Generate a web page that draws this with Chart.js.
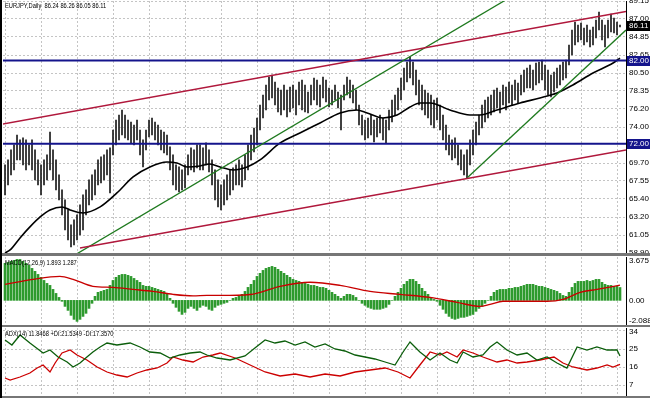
<!DOCTYPE html>
<html>
<head>
<meta charset="utf-8">
<script src="https://cdn.jsdelivr.net/npm/chart.js@4.4.1/dist/chart.umd.min.js"></script>
<style>
  html, body { margin: 0; padding: 0; background: #fff; }
  #wrap { position: relative; width: 650px; height: 398px; overflow: hidden; background: #fff; }
  #wrap canvas { position: absolute; left: 0; }
  .sep { position: absolute; left: 0; width: 650px; background: #767676; z-index: 2; }
  .edge { position: absolute; left: 0; top: 0; width: 2px; height: 398px; background: #000; z-index: 2; }
  .lbl { position: absolute; left: 5px; font: 7px "Liberation Sans", Arial, sans-serif; color: #000;
         white-space: nowrap; transform: scaleX(0.82); transform-origin: 0 0; z-index: 3; line-height: 8px; }
</style>
</head>
<body>
<div id="wrap">
  <canvas id="chart-price" style="top:0" width="650" height="255"></canvas>
  <canvas id="chart-macd" style="top:256px" width="650" height="70"></canvas>
  <canvas id="chart-adx" style="top:327px" width="650" height="71"></canvas>
  <div class="sep" style="top:253px;height:3px"></div>
  <div class="sep" style="top:325px;height:2px"></div>
  <div class="sep" style="top:396px;height:2px"></div>
  <div class="edge"></div>
  <div class="lbl" style="top:2px">EURJPY,Daily&nbsp; 86.24 86.26 86.05 86.11</div>
  <div class="lbl" style="top:259px">MACD(12,26,9) 1.893 1.287</div>
  <div class="lbl" style="top:330px">ADX(14) 11.8468 +DI:21.5349 -DI:17.3570</div>
</div>
<script>
// daily bars, oldest first (one entry per bar)
const highs = [
  69.47, 70.07, 71.27, 71.87, 73.07, 72.47, 72.71, 72.47, 71.87, 72.47,
  71.27, 70.07, 69.47, 70.07, 70.67, 73.43, 71.27, 70.07, 68.27, 66.47,
  65.27, 64.07, 62.27, 62.87, 63.47, 64.67, 65.87, 66.47, 67.67, 68.27,
  68.87, 70.07, 70.43, 70.67, 71.27, 71.51, 73.67, 74.87, 75.47, 76.07,
  75.47, 74.87, 74.63, 74.27, 74.87, 73.67, 72.47, 73.67, 74.87, 75.11,
  74.63, 74.27, 73.67, 73.43, 73.07, 71.63, 70.67, 69.47, 69.23, 68.87,
  69.47, 70.67, 71.51, 71.27, 71.87, 71.87, 71.51, 72.11, 71.27, 70.07,
  68.87, 67.67, 67.07, 67.67, 68.27, 68.87, 69.11, 69.47, 70.07, 69.47,
  70.67, 71.87, 73.07, 73.91, 75.11, 76.67, 77.87, 79.07, 80.03, 80.27,
  79.43, 78.71, 78.47, 79.07, 78.47, 78.83, 79.07, 78.47, 79.43, 79.67,
  79.07, 78.23, 79.07, 79.91, 79.67, 79.07, 80.03, 79.67, 78.71, 78.47,
  79.07, 78.23, 77.87, 79.07, 80.03, 79.67, 79.07, 78.47, 76.67, 75.47,
  74.87, 75.11, 75.47, 74.87, 75.11, 75.47, 75.11, 74.87, 76.07, 77.27,
  77.87, 78.71, 79.91, 81.11, 81.83, 82.43, 81.83, 80.87, 79.67, 79.07,
  78.47, 78.11, 77.87, 77.27, 77.51, 76.67, 75.47, 74.27, 73.07, 72.47,
  72.71, 71.87, 71.27, 70.67, 71.27, 72.47, 73.67, 74.63, 75.47, 76.67,
  77.27, 77.63, 77.87, 78.47, 78.71, 78.23, 79.07, 78.83, 79.43, 79.07,
  79.67, 79.31, 80.27, 80.87, 81.11, 81.47, 80.87, 81.71, 81.83, 82.07,
  81.47, 80.87, 80.27, 80.63, 81.11, 81.47, 81.83, 82.07, 83.87, 85.67,
  86.63, 86.27, 86.51, 85.91, 86.27, 85.67, 86.03, 86.87, 87.83, 86.87,
  86.27, 86.87, 87.59, 87.11, 86.63, 86.26
];
const lows = [
  65.87, 67.07, 68.27, 68.87, 70.07, 70.07, 69.47, 68.87, 69.47, 68.87,
  67.67, 67.07, 65.87, 67.07, 67.67, 68.87, 67.67, 66.47, 65.27, 63.47,
  61.67, 60.47, 59.63, 59.87, 60.47, 61.07, 61.67, 63.47, 64.67, 65.27,
  65.87, 67.07, 67.31, 67.67, 68.27, 66.11, 70.67, 71.87, 72.47, 73.07,
  72.71, 72.47, 72.11, 71.87, 72.47, 70.67, 69.23, 71.27, 72.83, 73.07,
  72.47, 71.87, 71.27, 70.91, 70.67, 68.87, 67.07, 66.47, 66.23, 66.47,
  66.71, 68.27, 68.87, 68.63, 69.11, 68.87, 68.87, 69.47, 68.63, 67.07,
  65.27, 64.43, 64.07, 64.67, 65.27, 65.87, 66.47, 67.07, 67.07, 66.83,
  67.67, 68.87, 70.07, 71.03, 71.87, 73.67, 75.11, 76.07, 77.27, 77.51,
  76.67, 75.83, 75.47, 76.07, 75.23, 75.83, 76.31, 75.47, 76.67, 76.07,
  75.83, 75.71, 76.67, 77.27, 76.67, 76.43, 77.51, 77.03, 76.43, 76.67,
  77.27, 76.31, 73.67, 77.27, 77.87, 77.51, 76.91, 76.07, 74.27, 73.07,
  72.47, 72.71, 73.07, 72.23, 72.83, 73.31, 72.47, 72.11, 73.67, 74.63,
  75.47, 76.07, 77.27, 78.47, 79.43, 79.91, 79.07, 77.87, 76.67, 76.07,
  75.47, 75.11, 74.27, 73.91, 74.87, 73.67, 72.47, 71.27, 70.67, 70.07,
  70.31, 69.47, 68.87, 68.27, 67.91, 69.47, 70.67, 71.87, 73.07, 73.91,
  74.63, 75.11, 75.47, 75.83, 76.31, 75.71, 76.67, 76.07, 76.91, 76.67,
  77.27, 76.91, 77.87, 78.23, 78.71, 78.71, 78.47, 79.07, 79.31, 79.67,
  78.47, 77.87, 77.63, 78.23, 78.71, 79.07, 79.67, 79.91, 81.47, 82.67,
  83.87, 84.23, 84.47, 83.87, 84.23, 83.63, 83.87, 84.71, 85.67, 84.47,
  83.63, 84.71, 85.43, 85.31, 85.07, 86.05
];
const lastClose = 86.11;

// moving average, [bar, price]
const maLine = [
  [0, 58.91], [1.7, 59.27], [5, 60.71], [8.3, 62.03], [11.7, 63.23], [15, 64.07], [19, 64.43],
  [21.7, 64.07], [26, 63.71], [31.7, 64.43], [37.3, 66.11], [42.7, 68.03], [48.3, 69.23],
  [54, 69.83], [57.3, 69.71], [60.7, 69.23], [65, 69.35], [68.3, 69.59], [71.7, 69.23],
  [76, 68.87], [80.7, 69.23], [85, 70.07], [91.7, 72.11], [98.3, 73.31], [105, 74.51],
  [111.7, 75.71], [117.3, 76.07], [120.7, 75.71], [126, 75.11], [130.7, 75.47], [135, 76.43],
  [138.3, 76.91], [141.7, 76.91], [148.3, 76.07], [155, 75.47], [158.3, 75.47], [164, 76.07],
  [171.7, 76.91], [178.3, 77.51], [184, 78.11], [189.3, 79.07], [196, 80.51], [202.7, 81.71],
  [205, 82.3]
];

// drawn objects, [bar, price]
const upperChannel = [[-1, 74.37], [207, 87.89]];
const lowerChannel = [[25, 59.51], [207, 71.27]];
const steepTrend = [[23, 58.6], [167, 89.3]];
const supportTrend = [[154, 67.9], [207, 85.67]];
const levels = [82.00, 72.00];

const priceTicks = [89.15, 87.00, 84.85, 82.65, 80.50, 78.35, 76.20, 74.00, 69.70, 67.55, 65.40, 63.20, 61.05, 58.90];
const gridBars = [0, 12, 24, 36, 48, 60, 72, 84, 96, 108, 120, 132, 144, 156, 168, 180, 192, 204];

// MACD histogram, one per bar
const macdHist = [
  3.14, 3.22, 3.31, 3.39, 3.47, 3.47, 3.31, 3.14, 2.97, 2.71,
  2.46, 2.20, 1.95, 1.69, 1.44, 1.27, 0.93, 0.59, 0.25, -0.08,
  -0.51, -0.85, -1.27, -1.61, -1.78, -1.61, -1.36, -1.10, -0.68, -0.25,
  0.34, 0.68, 0.76, 0.85, 0.93, 1.27, 1.69, 1.95, 2.12, 2.20,
  2.20, 2.12, 2.03, 1.86, 1.69, 1.53, 1.27, 1.19, 1.19, 1.10,
  1.02, 0.93, 0.85, 0.76, 0.59, 0.17, -0.25, -0.59, -0.93, -1.19,
  -1.02, -0.68, -0.51, -0.68, -0.85, -0.59, -0.42, -0.51, -0.76, -0.85,
  -0.59, -0.42, -0.34, -0.25, -0.17, 0.00, 0.17, 0.25, 0.34, 0.51,
  0.76, 1.10, 1.36, 1.69, 2.03, 2.29, 2.54, 2.71, 2.80, 2.88,
  2.80, 2.63, 2.46, 2.29, 2.12, 1.95, 1.78, 1.69, 1.61, 1.53,
  1.44, 1.36, 1.27, 1.27, 1.19, 1.10, 1.10, 1.02, 0.85, 0.68,
  0.51, 0.34, 0.17, 0.34, 0.51, 0.51, 0.42, 0.25, 0.00, -0.25,
  -0.42, -0.59, -0.68, -0.76, -0.76, -0.76, -0.68, -0.59, -0.34, 0.00,
  0.34, 0.68, 1.02, 1.36, 1.61, 1.78, 1.78, 1.61, 1.36, 1.02,
  0.76, 0.51, 0.25, 0.08, -0.08, -0.42, -0.76, -1.10, -1.36, -1.53,
  -1.61, -1.53, -1.44, -1.44, -1.36, -1.27, -1.19, -0.93, -0.68, -0.51,
  -0.25, 0.00, 0.34, 0.68, 0.85, 0.93, 0.93, 0.93, 1.02, 1.02,
  1.10, 1.10, 1.19, 1.27, 1.36, 1.36, 1.36, 1.27, 1.19, 1.19,
  1.10, 1.02, 0.93, 0.85, 0.76, 0.59, 0.42, 0.34, 0.68, 1.10,
  1.44, 1.61, 1.61, 1.61, 1.69, 1.61, 1.69, 1.78, 1.78, 1.53,
  1.36, 1.27, 1.27, 1.19, 1.19, 1.09
];
const macdSignal = [
  [0, 1.36], [9.3, 1.78], [18.3, 2.03], [22.7, 1.78], [29.3, 1.19], [36, 1.10], [42.7, 0.93],
  [49.3, 0.76], [56, 0.51], [62.7, 0.38], [67.3, 0.42], [71.7, 0.42], [81.7, 0.5], [91.7, 1.19],
  [101.7, 1.53], [111.7, 1.27], [121.7, 0.76], [131.7, 0.51], [141.7, 0.25], [150.7, -0.17],
  [158.3, -0.51], [161.7, -0.34], [166, -0.08], [180.7, -0.08], [186, 0.08], [191.7, 0.68],
  [197.3, 0.93], [205, 1.29]
];
const macdTicks = [3.675, 0, -2.088];
const macdTickText = ['3.675', '0.00', '-2.088'];

// ADX directional lines, [bar, value]
const plusDI = [
  [0, 29.5], [2.3, 27], [5, 32], [8.3, 28], [12.7, 23], [15, 24.5], [17.7, 21], [20.7, 18.5],
  [22.7, 16], [25, 18], [27.3, 21], [29.3, 23.5], [31.7, 26], [34, 28], [37.3, 27], [41.7, 28],
  [45, 26], [48.3, 23.5], [51.7, 23], [55, 20.5], [58.3, 22], [61.7, 23], [65, 23.5], [67.3, 22],
  [70.7, 20.5], [75, 19.5], [80, 21.5], [83.3, 25.5], [86.7, 29.5], [90, 28], [93.3, 29],
  [96.7, 27], [100, 28.5], [103.3, 26], [106.7, 27.5], [110, 25], [113.3, 24], [116.7, 22],
  [120, 21], [123.3, 20], [126.7, 18.5], [130, 17], [132.7, 23.5], [135, 28.5], [138.3, 23.5],
  [141.7, 19.5], [145, 23], [148.3, 19.5], [150.7, 18], [152.7, 23.5], [156, 21], [159.3, 22],
  [161.7, 26], [164, 28.5], [167.3, 24.5], [170.7, 22], [174, 23], [177.3, 19.5], [180.7, 21],
  [184, 18], [187.3, 15.5], [190.7, 26], [194, 24.5], [197.3, 26], [200.7, 24.5], [204, 24.5],
  [205, 21.5]
];
const minusDI = [
  [0, 10.5], [1.7, 9.5], [5, 11], [8.3, 13], [10.7, 15.5], [12.7, 17], [15, 13.5], [16.7, 18],
  [19, 23], [21.7, 24.5], [24, 22], [27.3, 19.5], [30.7, 16], [34, 13.5], [37.3, 12], [40.7, 11],
  [44, 13], [47.3, 14.5], [50.7, 15.5], [54, 18], [56, 21], [59.3, 19.5], [62.7, 18.5], [66, 21],
  [69.3, 22], [71.7, 23], [76.7, 20.5], [81.7, 17], [86.7, 13.5], [91.7, 11.5], [96.7, 12.5],
  [101.7, 11], [106.7, 12.5], [111.7, 11.5], [116.7, 13.5], [121.7, 14.5], [126.7, 15.5],
  [131, 13.5], [135, 10.5], [138.3, 17], [141.7, 23.5], [145, 22], [147.3, 23.5], [150.7, 21],
  [152.7, 24.5], [156, 23], [159.3, 21], [164, 18.5], [167.3, 19.5], [170.7, 18], [174, 18.5],
  [178.3, 19.5], [183, 21], [186, 18], [189.3, 16], [194, 14.5], [197.3, 15.5], [200.7, 17],
  [202.7, 16], [205, 17.36]
];
const adxTicks = [34, 25, 16, 7];
const adxTickText = ['34', '25', '16', '7'];

const X_MIN = -0.67;
const X_MAX = 207;
const AXIS_FONT = '8px "Liberation Sans", Arial, sans-serif';
const GRID = '#c4c4c4';

const toPoints = (pairs) => pairs.map(([x, y]) => ({ x, y }));

// right-hand scale texts and price boxes
const sideLabels = {
  id: 'sideLabels',
  afterDraw(chart, args, opts) {
    const { ctx, chartArea, scales: { y } } = chart;
    ctx.save();
    ctx.font = AXIS_FONT;
    ctx.textBaseline = 'middle';
    (opts.items || []).forEach(item => {
      let py = y.getPixelForValue(item.value);
      if (opts.clamp) py = Math.min(Math.max(py, chartArea.top + 4), chartArea.bottom - 4);
      ctx.fillStyle = '#000';
      ctx.fillText(item.text, chartArea.right + 3, py);
    });
    (opts.boxes || []).forEach(box => {
      const py = Math.round(y.getPixelForValue(box.value));
      ctx.fillStyle = box.bg;
      ctx.fillRect(chartArea.right + 1, py - 5, 24, 10);
      ctx.fillStyle = '#fff';
      ctx.fillText(box.value.toFixed(2), chartArea.right + 3, py);
    });
    ctx.restore();
  }
};

function baseOptions(yMin, yMax, yGrid, padding, labels) {
  return {
    responsive: false,
    animation: false,
    events: [],
    layout: { padding },
    plugins: { legend: { display: false }, tooltip: { enabled: false }, sideLabels: labels },
    scales: {
      x: {
        type: 'linear', min: X_MIN, max: X_MAX, offset: false,
        afterBuildTicks: s => { s.ticks = gridBars.map(v => ({ value: v })); },
        ticks: { display: false },
        border: { display: false, dash: [2, 2] },
        grid: { color: GRID, drawTicks: false, offset: false }
      },
      y: {
        position: 'right', min: yMin, max: yMax,
        afterBuildTicks: s => { s.ticks = yGrid.map(v => ({ value: v })); },
        afterFit: s => { s.width = 24; },
        ticks: { display: false },
        border: { display: true, color: '#000', width: 1, dash: [2, 2] },
        grid: { color: GRID, drawTicks: false }
      }
    }
  };
}

function trendDataset(pairs, color, width) {
  return { type: 'line', data: toPoints(pairs), borderColor: color, borderWidth: width,
           pointRadius: 0, order: 1 };
}

new Chart(document.getElementById('chart-price'), {
  type: 'bar',
  data: {
    datasets: [
      {
        data: highs.map((h, i) => ({ x: i, y: [lows[i], h] })),
        backgroundColor: '#1a1a1a', barThickness: 1, order: 10
      },
      { type: 'line', data: toPoints(maLine), borderColor: '#000', borderWidth: 1.6,
        pointRadius: 0, cubicInterpolationMode: 'monotone', order: 5 },
      trendDataset(upperChannel, '#b0183c', 1.6),
      trendDataset(lowerChannel, '#b0183c', 1.6),
      trendDataset(steepTrend, '#1f7a1f', 1.3),
      trendDataset(supportTrend, '#1f7a1f', 1.3),
      ...levels.map(v => trendDataset([[X_MIN, v], [X_MAX, v]], '#14148c', 2))
    ]
  },
  options: baseOptions(58.90, 89.15, priceTicks, { left: 3, right: 0, top: 1, bottom: 2 }, {
    items: priceTicks.map(v => ({ value: v, text: v.toFixed(2) })),
    boxes: [
      ...levels.map(v => ({ value: v, bg: '#14148c' })),
      { value: lastClose, bg: '#000' }
    ]
  }),
  plugins: [sideLabels]
});

new Chart(document.getElementById('chart-macd'), {
  type: 'bar',
  data: {
    datasets: [
      { data: macdHist.map((v, i) => ({ x: i, y: v })), backgroundColor: '#2e9a2e',
        barThickness: 2, order: 2 },
      { type: 'line', data: toPoints(macdSignal), borderColor: '#c80000', borderWidth: 1.4,
        pointRadius: 0, cubicInterpolationMode: 'monotone', order: 1 }
    ]
  },
  options: baseOptions(-2.088, 3.675, [], { left: 3, right: 0, top: 1, bottom: 1 }, {
    clamp: true,
    items: macdTicks.map((v, i) => ({ value: v, text: macdTickText[i] }))
  }),
  plugins: [sideLabels]
});

new Chart(document.getElementById('chart-adx'), {
  type: 'line',
  data: {
    datasets: [
      { data: toPoints(plusDI), borderColor: '#0b5e0b', borderWidth: 1.3, pointRadius: 0 },
      { data: toPoints(minusDI), borderColor: '#cc0000', borderWidth: 1.3, pointRadius: 0 }
    ]
  },
  options: baseOptions(1.5, 35.5, adxTicks, { left: 3, right: 0, top: 1, bottom: 2 }, {
    clamp: true,
    items: adxTicks.map((v, i) => ({ value: v, text: adxTickText[i] }))
  }),
  plugins: [sideLabels]
});
</script>
</body>
</html>
